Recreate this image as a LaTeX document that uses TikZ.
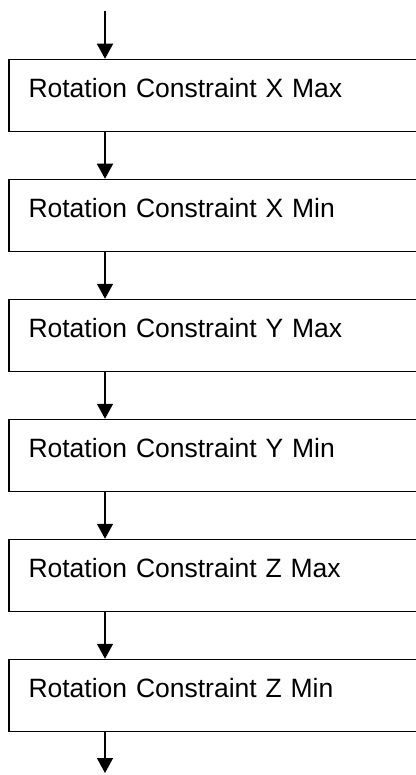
\documentclass[tikz,border=0pt]{standalone}
\usepackage{fontspec}
\setmainfont{Liberation Sans}
\usepackage{tikz}
\usetikzlibrary{arrows.meta,positioning,calc}

\begin{document}
\begin{tikzpicture}[
    x=1pt, y=-1pt,
    stagebox/.style={draw, rectangle, line width=1.5pt, minimum width=410pt, minimum height=72pt,
        inner xsep=19.5pt, inner ysep=5pt, text width=371pt, align=left,
        text height=32.7pt, text depth=29.3pt, font=\fontsize{26.5}{30}\selectfont},
    arrow/.style={-{Triangle[width=16pt,length=15pt]}, line width=1.5pt}
]
    \useasboundingbox (0,0) rectangle (415,775);

    \node[stagebox] (xmax) at (214,95.5)  {Rotation Constraint X Max};
    \node[stagebox] (xmin) at (214,215.5) {Rotation Constraint X Min};
    \node[stagebox] (ymax) at (214,335.5) {Rotation Constraint Y Max};
    \node[stagebox] (ymin) at (214,455.5) {Rotation Constraint Y Min};
    \node[stagebox] (zmax) at (214,575.5) {Rotation Constraint Z Max};
    \node[stagebox] (zmin) at (214,695.5) {Rotation Constraint Z Min};

    \coordinate (in) at (105,11);
    \coordinate (out) at (105,773);

    \draw[arrow] (in) -- (in |- xmax.north);
    \draw[arrow] (xmax.south -| in) -- (xmin.north -| in);
    \draw[arrow] (xmin.south -| in) -- (ymax.north -| in);
    \draw[arrow] (ymax.south -| in) -- (ymin.north -| in);
    \draw[arrow] (ymin.south -| in) -- (zmax.north -| in);
    \draw[arrow] (zmax.south -| in) -- (zmin.north -| in);
    \draw[arrow] (zmin.south -| in) -- (out);
\end{tikzpicture}
\end{document}
